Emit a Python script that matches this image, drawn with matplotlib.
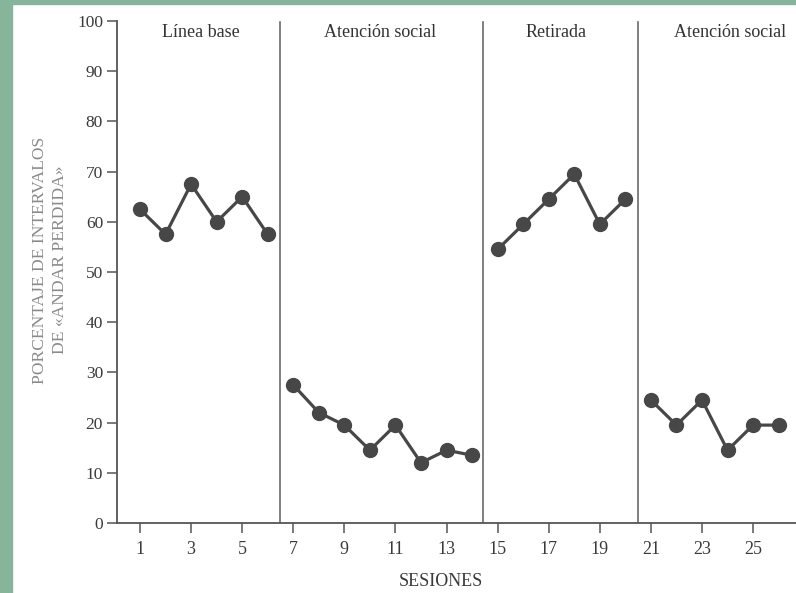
import matplotlib
matplotlib.use("Agg")
import matplotlib.pyplot as plt
from matplotlib.patches import Rectangle

plt.rcParams['font.family'] = ['Liberation Serif', 'DejaVu Serif']

phase_names = ["Línea base", "Atención social", "Retirada", "Atención social"]
phase_sessions = [
    [1, 2, 3, 4, 5, 6],
    [7, 8, 9, 10, 11, 12, 13, 14],
    [15, 16, 17, 18, 19, 20],
    [21, 22, 23, 24, 25, 26],
]
phase_values = [
    [62.5, 57.5, 67.5, 60, 65, 57.5],
    [27.5, 22, 19.5, 14.5, 19.5, 12, 14.5, 13.5],
    [54.5, 59.5, 64.5, 69.5, 59.5, 64.5],
    [24.5, 19.5, 24.5, 14.5, 19.5, 19.5],
]
phase_breaks = [6.5, 14.42, 20.5]
label_x = [3.4, 10.4, 17.3, 24.1]
xticks = [1, 3, 5, 7, 9, 11, 13, 15, 17, 19, 21, 23, 25]
yticks = [0, 10, 20, 30, 40, 50, 60, 70, 80, 90, 100]

fig = plt.figure(figsize=(7.96, 5.93), dpi=100)
fig.patch.set_facecolor('white')
green = '#86b59c'
fig.patches.append(Rectangle((0, 0), 12 / 796, 1, transform=fig.transFigure, color=green, zorder=0))
fig.patches.append(Rectangle((0, 1 - 4 / 593), 1, 4 / 593, transform=fig.transFigure, color=green, zorder=0))

ax = fig.add_axes([117 / 796, 1 - 523 / 593, 1 - 117 / 796, (523 - 21) / 593])
ax.set_xlim(0.1, 26.68)
ax.set_ylim(0, 100)

dark = '#474747'
for xs, ys in zip(phase_sessions, phase_values):
    ax.plot(xs, ys, color=dark, lw=2.3, marker='o', ms=10, mfc=dark, mec=dark, clip_on=False, zorder=3)

for b in phase_breaks:
    ax.axvline(b, ymin=0, ymax=0.998, color='#6a6a6a', lw=1.2)

for name, lx in zip(phase_names, label_x):
    ax.text(lx, 97.7, name, ha='center', va='center', fontsize=13, color='#333333')

for s in ['top', 'right']:
    ax.spines[s].set_visible(False)
for s in ['left', 'bottom']:
    ax.spines[s].set_color('#555555')
    ax.spines[s].set_linewidth(1.3)

ax.set_xticks(xticks)
ax.set_yticks(yticks)
ax.tick_params(axis='both', colors='#555555', labelcolor='#3a3a3a', length=7, width=1.1)
ax.tick_params(axis='x', pad=6, labelsize=13)
ax.tick_params(axis='y', pad=3, labelsize=12.5)

fig.text(441 / 796, 1 - 581 / 593, 'SESIONES', ha='center', va='center', fontsize=13, color='#3a3a3a')
fig.text(50 / 796, 1 - 260 / 593, 'PORCENTAJE DE INTERVALOS\nDE «ANDAR PERDIDA»', rotation=90,
         ha='center', va='center', fontsize=12.6, color='#8a8a8a', linespacing=1.3)

fig.savefig('out.png', dpi=100, facecolor='white')
